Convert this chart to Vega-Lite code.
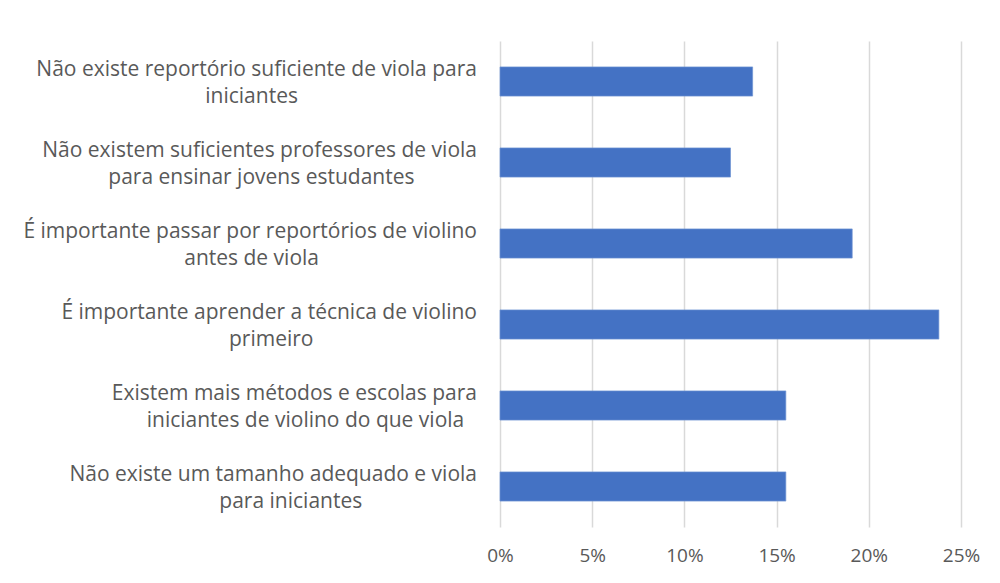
{
  "$schema": "https://vega.github.io/schema/vega-lite/v6.json",
  "autosize": {"type": "none"},
  "padding": {"left": 500, "top": 41, "right": 39, "bottom": 56},
  "width": 461,
  "height": 486,
  "background": "white",
  "data": {
    "values": [
      {"categoria": "Não existe reportório suficiente de viola para|iniciantes", "valor": 0.137},
      {"categoria": "Não existem suficientes professores de viola|para ensinar jovens estudantes", "valor": 0.125},
      {"categoria": "É importante passar por reportórios de violino|antes de viola", "valor": 0.191},
      {"categoria": "É importante aprender a técnica de violino|primeiro", "valor": 0.238},
      {"categoria": "Existem mais métodos e escolas para|iniciantes de violino do que viola", "valor": 0.155},
      {"categoria": "Não existe um tamanho adequado e viola|para iniciantes", "valor": 0.155}
    ]
  },
  "encoding": {
    "y": {
      "field": "categoria",
      "type": "nominal",
      "sort": null,
      "title": null,
      "scale": {"paddingInner": 0.64, "paddingOuter": 0.32},
      "axis": {"domain": false, "ticks": false, "grid": false, "labels": false}
    }
  },
  "layer": [
    {
      "mark": {"type": "bar", "color": "#4472C4", "stroke": "#6F93D3", "strokeWidth": 0.7},
      "encoding": {
        "x": {
          "field": "valor",
          "type": "quantitative",
          "title": null,
          "scale": {"domain": [0, 0.25], "nice": false},
          "axis": {
            "format": ".0%",
            "values": [0, 0.05, 0.1, 0.15, 0.2, 0.25],
            "domain": false,
            "ticks": false,
            "grid": true,
            "gridColor": "#D9D9D9",
            "gridWidth": 1.5,
            "labelFlush": false,
            "labelFont": "Open Sans",
            "labelFontSize": 19,
            "labelColor": "#595959",
            "labelPadding": 19
          }
        }
      }
    },
    {
      "mark": {
        "type": "text",
        "align": "right",
        "baseline": "middle",
        "font": "Open Sans",
        "fontSize": 21,
        "color": "#595959",
        "dy": -12,
        "dx": -23,
        "text": {"expr": "split(datum.categoria, '|')[0]"}
      },
      "encoding": {
        "x": {"datum": 0, "type": "quantitative"}
      }
    },
    {
      "mark": {
        "type": "text",
        "align": "center",
        "baseline": "middle",
        "font": "Open Sans",
        "fontSize": 21,
        "color": "#595959",
        "dy": 15,
        "text": {"expr": "split(datum.categoria, '|')[1]"},
        "dx": {"expr": "-23 - 0.5 * 9.8 * length(split(datum.categoria, '|')[0])"}
      },
      "encoding": {
        "x": {"datum": 0, "type": "quantitative"}
      }
    }
  ],
  "config": {"view": {"stroke": null}}
}
